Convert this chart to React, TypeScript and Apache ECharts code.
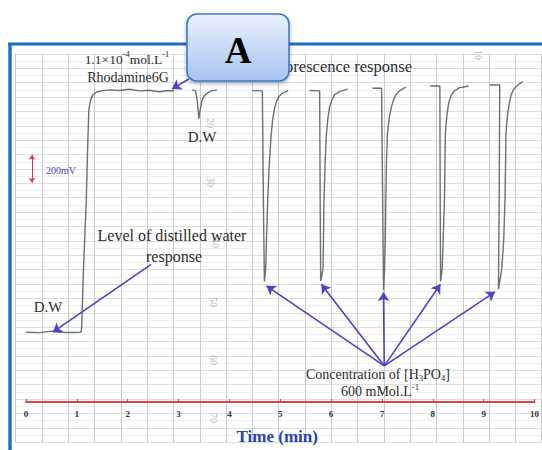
import React, { useEffect, useRef } from "react";
import * as echarts from "echarts";

// ---- axis ranges ----
const TIME_MIN = 0;
const TIME_MAX = 10;
const TIME_STEP = 1;
const SIGNAL_MIN = -500; // mV (distilled water baseline = 0)
const SIGNAL_MAX = 2000;

// ---- recorder trace, [time (min), signal (mV)] ----
const BASELINE_AND_RHODAMINE: [number, number][] = [
  [0, 0], [0.27, -3], [0.51, 8], [0.66, 0], [0.86, -2], [1.084, 0],
  [1.094, 30], [1.133, 479], [1.186, 950], [1.211, 1307], [1.236, 1593],
  [1.27, 1664], [1.318, 1700], [1.387, 1721], [1.484, 1729], [1.64, 1736],
  [1.84, 1731], [2.03, 1740], [2.23, 1729], [2.42, 1733], [2.62, 1722],
  [2.8, 1731], [2.91, 1728],
];
const DISTILLED_WATER_DIP: [number, number][] = [
  [3.268, 1736], [3.334, 1729], [3.365, 1664], [3.385, 1593], [3.4, 1529],
  [3.418, 1579], [3.463, 1664], [3.51, 1693], [3.561, 1712], [3.65, 1729],
  [3.756, 1736],
];
const PEAK_1: [number, number][] = [
  [4.453, 1731], [4.648, 1729], [4.668, 950], [4.688, 364], [4.713, 450],
  [4.73, 664], [4.752, 929], [4.781, 1179], [4.818, 1400], [4.85, 1521],
  [4.883, 1593], [4.922, 1650], [4.975, 1688], [5.039, 1711], [5.156, 1731],
];
const PEAK_2: [number, number][] = [
  [5.58, 1731], [5.775, 1729], [5.785, 950], [5.795, 366], [5.84, 450],
  [5.85, 664], [5.859, 926], [5.879, 1179], [5.904, 1402], [5.938, 1536],
  [5.971, 1616], [6.016, 1664], [6.068, 1700], [6.172, 1725], [6.328, 1741],
];
const PEAK_3: [number, number][] = [
  [6.816, 1748], [6.992, 1748], [7.012, 1021], [7.031, 300], [7.051, 450],
  [7.066, 664], [7.076, 950], [7.09, 1236], [7.109, 1429], [7.145, 1543],
  [7.188, 1616], [7.227, 1664], [7.271, 1700], [7.344, 1729], [7.467, 1755],
];
const PEAK_4: [number, number][] = [
  [7.949, 1764], [8.139, 1764], [8.145, 1021], [8.152, 364], [8.184, 450],
  [8.203, 664], [8.229, 950], [8.238, 1179], [8.248, 1429], [8.277, 1557],
  [8.314, 1643], [8.359, 1693], [8.412, 1724], [8.516, 1750], [8.705, 1764],
];
const PEAK_5: [number, number][] = [
  [9.121, 1771], [9.316, 1771], [9.307, 1021], [9.291, 307], [9.355, 450],
  [9.395, 664], [9.42, 950], [9.43, 1179], [9.439, 1429], [9.469, 1557],
  [9.506, 1643], [9.541, 1700], [9.584, 1736], [9.648, 1764], [9.766, 1795],
];
const TRACE_SEGMENTS = [
  BASELINE_AND_RHODAMINE, DISTILLED_WATER_DIP, PEAK_1, PEAK_2, PEAK_3, PEAK_4, PEAK_5,
];

// ---- annotation arrows, [time, mV] ----
const RHODAMINE_ARROW: [number, number][] = [[3.203, 1814], [2.871, 1743]];
const WATER_ARROW: [number, number][] = [[2.461, 486], [0.527, 0]];
const ACID_ARROW_ORIGIN: [number, number] = [7.045, -241];
const ACID_ARROW_TIPS: [number, number][] = [
  [4.727, 332], [5.807, 343], [7.031, 286], [8.15, 343], [9.225, 289],
];
const SCALE_BAR_MV = 200;
const SCALE_BAR_AT: [number, number] = [0.117, 1071];

// ---- chart-paper printed numbers ----
const PAPER_NUMBERS = ["10", "20", "30", "40", "50", "60", "70"];

const SERIF = '"Liberation Serif", "DejaVu Serif", serif';
const INK = "#2d2d2d";
const ARROW_BLUE = "#4a44c8";

export default function App() {
  const ref = useRef<HTMLDivElement>(null);

  useEffect(() => {
    if (!ref.current) return;
    const chart = echarts.init(ref.current, undefined, { renderer: "svg" });

    const arrowLines: any[] = [
      [{ coord: RHODAMINE_ARROW[0] }, { coord: RHODAMINE_ARROW[1] }],
      [{ coord: WATER_ARROW[0] }, { coord: WATER_ARROW[1] }],
      ...ACID_ARROW_TIPS.map((tip) => [{ coord: ACID_ARROW_ORIGIN }, { coord: tip }]),
    ];

    const paperPos: [number, number][] = [
      [478, 55], [210, 123], [210, 182], [215, 243], [213, 302], [213, 360], [213, 418],
    ];

    const text = (t: string, x: number, y: number, size: number, opts: any = {}) => ({
      type: "text",
      x,
      y,
      z: 50,
      silent: true,
      style: {
        text: t,
        font: `${opts.weight || "normal"} ${size}px ${SERIF}`,
        fill: opts.color || INK,
        align: opts.align || "center",
        verticalAlign: "middle",
      },
    });

    const richText = (t: string, x: number, y: number, size: number) => ({
      type: "text",
      x,
      y,
      z: 50,
      silent: true,
      style: {
        text: t,
        font: `${size}px ${SERIF}`,
        fill: INK,
        align: "center",
        verticalAlign: "middle",
        rich: {
          m: { fontSize: size, fontFamily: SERIF, fill: INK, color: INK, lineHeight: size + 3 },
          s: { fontSize: size * 0.62, fontFamily: SERIF, fill: INK, color: INK, verticalAlign: "top" },
          b: { fontSize: size * 0.62, fontFamily: SERIF, fill: INK, color: INK, verticalAlign: "bottom" },
        },
      },
    });

    const option: any = {
      animation: false,
      backgroundColor: "#ffffff",
      grid: [
        { left: 26, right: 4, top: 53, bottom: 47 },
        { left: 15.7, width: 526, top: 53.9, height: 388.3 },
      ],
      xAxis: [
        {
          gridIndex: 0,
          type: "value",
          min: TIME_MIN,
          max: TIME_MAX,
          interval: TIME_STEP,
          name: "Time (min)",
          nameLocation: "middle",
          nameGap: 26,
          nameTextStyle: {
            fontFamily: SERIF,
            fontWeight: "bold",
            fontSize: 17,
            color: "#2743b4",
            padding: [0, 6, 0, 0],
          },
          axisLine: { onZero: false, lineStyle: { color: "#e2414b", width: 2 } },
          axisTick: { inside: true, length: 3, lineStyle: { color: "#e2414b", width: 1 } },
          axisLabel: {
            fontFamily: SERIF,
            fontWeight: "bold",
            fontSize: 9,
            color: "#333",
            margin: 7,
          },
          splitLine: { show: false },
        },
        {
          gridIndex: 1,
          type: "value",
          min: 0,
          max: 20,
          interval: 1,
          axisLine: { show: false },
          axisTick: { show: false },
          axisLabel: { show: false },
          splitLine: { show: true, lineStyle: { color: "#c9cdcd", width: 1 } },
        },
      ],
      yAxis: [
        { gridIndex: 0, type: "value", min: SIGNAL_MIN, max: SIGNAL_MAX, show: false },
        {
          gridIndex: 1,
          type: "value",
          min: 0,
          max: 27,
          interval: 1,
          axisLine: { show: false },
          axisTick: { show: false },
          axisLabel: { show: false },
          splitLine: { show: true, lineStyle: { color: "#dcdfdf", width: 1 } },
          minorTick: { show: false, splitNumber: 2 },
          minorSplitLine: { show: true, lineStyle: { color: "#eef0f0", width: 1 } },
        },
      ],
      series: TRACE_SEGMENTS.map((seg, i) => {
        const s: any = {
          type: "line",
          xAxisIndex: 0,
          yAxisIndex: 0,
          data: seg,
          symbol: "none",
          silent: true,
          z: 3,
          lineStyle: { color: "#6a7171", width: 1.4 },
        };
        if (i === 0) {
          s.markLine = {
            silent: true,
            symbol: ["none", "arrow"],
            symbolSize: 9,
            label: { show: false },
            lineStyle: { color: ARROW_BLUE, width: 1.6, type: "solid" },
            data: arrowLines,
          };
        }
        if (i === 1) {
          s.markLine = {
            silent: true,
            symbol: ["arrow", "arrow"],
            symbolSize: 5,
            label: { show: false },
            lineStyle: { color: "#e2333b", width: 1, type: "solid" },
            data: [
              [
                { coord: SCALE_BAR_AT },
                { coord: [SCALE_BAR_AT[0], SCALE_BAR_AT[1] + SCALE_BAR_MV] },
              ],
            ],
          };
        }
        return s;
      }),
      graphic: {
        elements: [
          ...PAPER_NUMBERS.map((n, i) => ({
            type: "text",
            x: paperPos[i][0],
            y: paperPos[i][1],
            rotation: -Math.PI / 2,
            z: 1,
            silent: true,
            style: {
              text: n,
              font: `10px ${SERIF}`,
              fill: "#b0b4b4",
              align: "center",
              verticalAlign: "middle",
            },
          })),
          richText("{m|1.1×10}{s|-4}{m|mol.L}{s|-1}", 127, 59, 13.5),
          text("Rhodamine6G", 128, 77, 14),
          text("Fluorescence response", 412, 66, 16.5, { align: "right" }),
          text("D.W", 202, 137, 15),
          text("200mV", 61, 170, 10, { color: "#4a44c0" }),
          text("Level of distilled water", 172, 235, 16),
          text("response", 174, 256, 16),
          text("D.W", 48, 307, 15),
          richText("{m|Concentration of [H}{b|3}{m|PO}{b|4}{m|]}", 378, 374, 14),
          richText("{m|600 mMol.L}{s|-1}", 380, 391, 14),
          {
            type: "line",
            z: 100,
            silent: true,
            shape: { x1: 8, y1: 44, x2: 542, y2: 44 },
            style: { stroke: "#1c6cc0", lineWidth: 2.8 },
          },
          {
            type: "line",
            z: 100,
            silent: true,
            shape: { x1: 10, y1: 43, x2: 10, y2: 450 },
            style: { stroke: "#1c6cc0", lineWidth: 3.4 },
          },
          {
            type: "rect",
            z: 110,
            silent: true,
            shape: { x: 187, y: 14, width: 102, height: 67, r: 10 },
            style: {
              fill: new echarts.graphic.LinearGradient(0, 0, 0, 1, [
                { offset: 0, color: "#eaf1fd" },
                { offset: 1, color: "#a8c4f0" },
              ]),
              stroke: "#3d78cf",
              lineWidth: 1.6,
              shadowBlur: 4,
              shadowOffsetY: 2,
              shadowColor: "rgba(0,0,0,0.3)",
            },
          },
          {
            type: "text",
            x: 238,
            y: 50,
            z: 111,
            silent: true,
            style: {
              text: "A",
              font: `bold 37px ${SERIF}`,
              fill: "#000",
              align: "center",
              verticalAlign: "middle",
            },
          },
        ],
      },
    };

    chart.setOption(option);
    return () => chart.dispose();
  }, []);

  return (
    <div
      ref={ref}
      style={{ position: "fixed", left: 0, top: 0, width: 542, height: 450, background: "#fff" }}
    />
  );
}
